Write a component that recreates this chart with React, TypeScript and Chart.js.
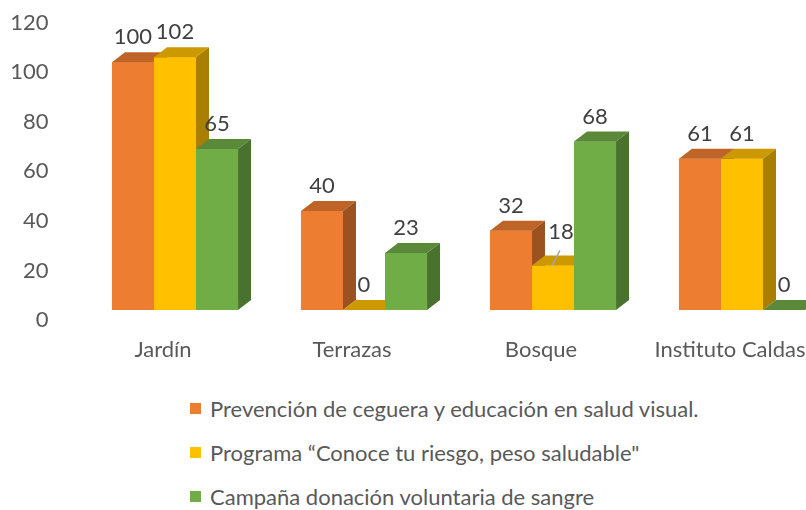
import React, { useEffect, useRef } from "react";
import { Chart, registerables } from "chart.js";

Chart.register(...registerables);

// ---- data ----
const categories = ["Jardín", "Terrazas", "Bosque", "Instituto Caldas"];
const seriesNames = [
  "Prevención de ceguera y educación en salud visual.",
  "Programa “Conoce tu riesgo, peso saludable\"",
  "Campaña donación voluntaria de sangre",
];
const prevencion = [100, 40, 32, 61];
const programa = [102, 0, 18, 61];
const campana = [65, 23, 68, 0];
const yMin = 0;
const yMax = 120;
const yStep = 20;

// ---- styles ----
const FRONT = ["#ED7D31", "#FFC000", "#70AD47"];
const TOP = ["#BE6427", "#CC9A00", "#5A8A39"];
const SIDE = ["#9C5220", "#A87F00", "#4A722F"];
const FONT_FAMILY = "Lato, 'Noto Sans', sans-serif";
const AXIS_COLOR = "#595959";
const LABEL_COLOR = "#404040";
const FONT_SIZE = 22;
const DEPTH_X = 13;
const DEPTH_Y = 10;
const SHIFT_X = 12;
const SHIFT_Y = -10;

const bar3d = {
  id: "bar3d",
  beforeDatasetsDraw(chart: any) {
    chart.ctx.save();
    chart.ctx.translate(SHIFT_X, SHIFT_Y);
  },
  afterDatasetsDraw(chart: any) {
    const ctx: CanvasRenderingContext2D = chart.ctx;
    const n = chart.data.datasets.length;
    const items: any[] = [];
    for (let d = 0; d < n; d++) {
      const meta = chart.getDatasetMeta(d);
      meta.data.forEach((el: any, i: number) => {
        const { x, y, base, width } = el.getProps(["x", "y", "base", "width"], true);
        const l = x - width / 2;
        const r = x + width / 2;
        ctx.fillStyle = FRONT[d];
        ctx.fillRect(l, y, width, base - y);
        ctx.fillStyle = TOP[d];
        ctx.beginPath();
        ctx.moveTo(l, y);
        ctx.lineTo(r, y);
        ctx.lineTo(r + DEPTH_X, y - DEPTH_Y);
        ctx.lineTo(l + DEPTH_X, y - DEPTH_Y);
        ctx.closePath();
        ctx.fill();
        ctx.fillStyle = SIDE[d];
        ctx.beginPath();
        ctx.moveTo(r, y);
        ctx.lineTo(r + DEPTH_X, y - DEPTH_Y);
        ctx.lineTo(r + DEPTH_X, base - DEPTH_Y);
        ctx.lineTo(r, base);
        ctx.closePath();
        ctx.fill();
        items.push({ x, y, d, i, v: chart.data.datasets[d].data[i] });
      });
    }
    ctx.font = `${FONT_SIZE}px ${FONT_FAMILY}`;
    ctx.fillStyle = LABEL_COLOR;
    ctx.textAlign = "center";
    ctx.textBaseline = "middle";
    for (const it of items) {
      // the small Bosque value is pushed aside with a leader line, as in the original
      if (it.d === 1 && it.v === 18) {
        ctx.strokeStyle = "#A6A6A6";
        ctx.lineWidth = 1.5;
        ctx.beginPath();
        ctx.moveTo(it.x - 1, it.y);
        ctx.lineTo(it.x + 7, it.y - 15);
        ctx.stroke();
        ctx.fillText(String(it.v), it.x + 8, it.y - 33);
      } else {
        ctx.fillText(String(it.v), it.x, it.y - 25);
      }
    }
    ctx.restore();
  },
};

export default function App() {
  const ref = useRef<HTMLCanvasElement>(null);
  useEffect(() => {
    if (!ref.current) return;
    const font = { family: FONT_FAMILY, size: FONT_SIZE };
    const chart = new Chart(ref.current, {
      type: "bar",
      data: {
        labels: categories,
        datasets: [prevencion, programa, campana].map((data, d) => ({
          label: seriesNames[d],
          data,
          backgroundColor: FRONT[d],
          borderWidth: 0,
          categoryPercentage: 0.667,
          barPercentage: 1,
        })),
      },
      options: {
        responsive: false,
        animation: false,
        layout: { padding: { top: 22.7, right: 25.5, left: 0, bottom: 0 } },
        plugins: { legend: { display: false }, tooltip: { enabled: false } },
        scales: {
          x: {
            grid: { display: false, drawTicks: false },
            border: { display: false },
            ticks: { font, color: AXIS_COLOR, padding: 17, maxRotation: 0, autoSkip: false },
            afterFit: (s: any) => {
              s.height = 50;
              s.paddingLeft = 0;
              s.paddingRight = 0;
            },
          },
          y: {
            min: yMin,
            max: yMax,
            grid: { display: false, drawTicks: false },
            border: { display: false },
            ticks: { stepSize: yStep, font, color: AXIS_COLOR, padding: 20 },
            afterFit: (s: any) => {
              s.width = 68.5;
              s.paddingTop = 0;
              s.paddingBottom = 0;
            },
          },
        },
      } as any,
      plugins: [bar3d],
    });
    return () => chart.destroy();
  }, []);

  return (
    <div
      style={{
        position: "fixed",
        left: 0,
        top: 0,
        width: 806,
        height: 510,
        overflow: "hidden",
        background: "#fff",
      }}
    >
      <canvas ref={ref} width={850} height={370} style={{ display: "block" }} />
      <div style={{ position: "absolute", left: 190, top: 386 }}>
        {seriesNames.map((name, d) => (
          <div
            key={name}
            style={{
              height: 44,
              display: "flex",
              alignItems: "center",
              fontFamily: FONT_FAMILY,
              fontSize: FONT_SIZE,
              color: AXIS_COLOR,
              whiteSpace: "nowrap",
            }}
          >
            <span
              style={{
                display: "inline-block",
                width: 11,
                height: 11,
                background: FRONT[d],
                marginRight: 9,
                flex: "none",
              }}
            />
            {name}
          </div>
        ))}
      </div>
    </div>
  );
}
